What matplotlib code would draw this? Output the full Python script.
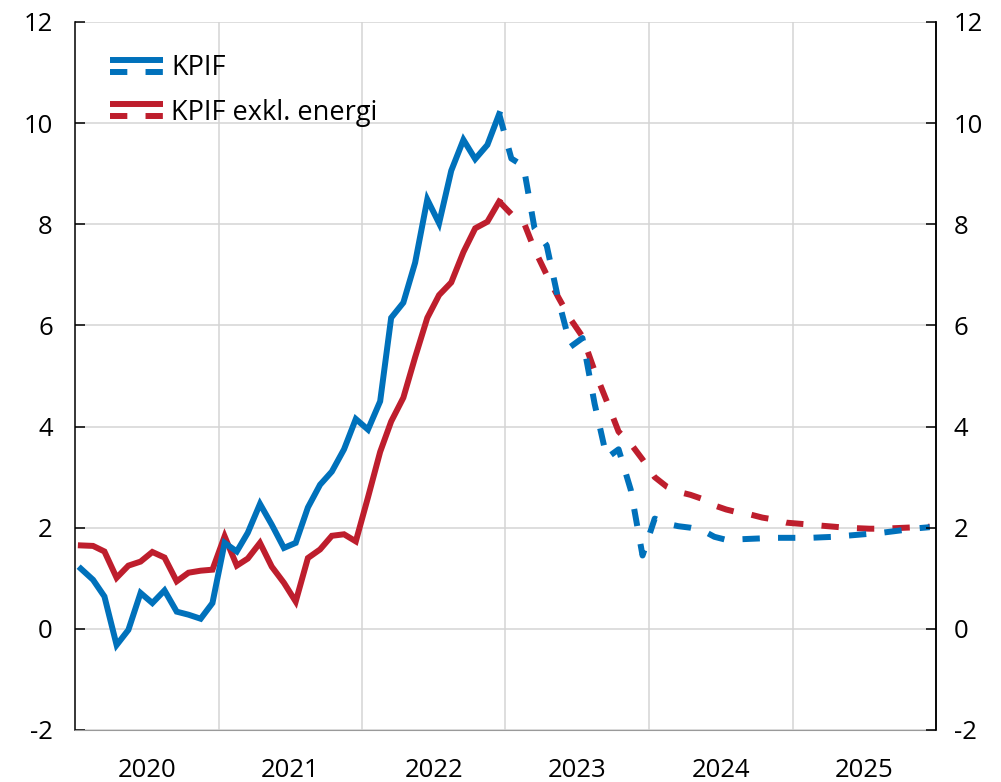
import numpy as np
import pandas as pd
import matplotlib
matplotlib.use("Agg")
import matplotlib.pyplot as plt
from matplotlib.lines import Line2D
from matplotlib.legend_handler import HandlerBase

plt.rcParams['font.family'] = ['Open Sans', 'DejaVu Sans']
plt.rcParams['axes.unicode_minus'] = False

# --- data -------------------------------------------------------------
# monthly history Jan 2020 - Dec 2022
kpif_hist = [1.19, 0.97, 0.64, -0.32, -0.02, 0.71, 0.51, 0.76, 0.34, 0.28, 0.20, 0.51,
             1.70, 1.53, 1.90, 2.47, 2.06, 1.60, 1.70, 2.40, 2.85, 3.11, 3.55, 4.15,
             3.94, 4.50, 6.15, 6.45, 7.24, 8.49, 8.02, 9.06, 9.67, 9.29, 9.57, 10.18]
exkl_hist = [1.65, 1.64, 1.53, 1.01, 1.25, 1.33, 1.52, 1.41, 0.94, 1.11, 1.15, 1.17,
             1.83, 1.25, 1.39, 1.70, 1.23, 0.91, 0.54, 1.40, 1.57, 1.84, 1.87, 1.73,
             2.60, 3.50, 4.10, 4.57, 5.37, 6.15, 6.60, 6.85, 7.45, 7.92, 8.05, 8.45]

# monthly projection Dec 2022 - Dec 2025
kpif_proj = [10.18,
             9.30, 9.15, 7.92, 7.58, 6.50, 5.58, 5.75, 4.45, 3.38, 3.55, 2.75, 1.45,
             2.18, 2.08, 2.03, 2.00, 1.95, 1.82, 1.76, 1.77, 1.78, 1.79, 1.80, 1.80,
             1.80, 1.80, 1.81, 1.82, 1.84, 1.86, 1.88, 1.90, 1.93, 1.96, 1.99, 2.01]
exkl_proj = [8.45,
             8.20, 8.05, 7.50, 7.00, 6.55, 6.12, 5.78, 5.10, 4.50, 3.90, 3.66, 3.35,
             3.00, 2.81, 2.71, 2.65, 2.57, 2.44, 2.36, 2.30, 2.26, 2.20, 2.16, 2.10,
             2.08, 2.06, 2.04, 2.02, 2.00, 1.99, 1.98, 1.98, 1.99, 2.00, 2.01, 2.02]

labels = ["KPIF", "KPIF exkl. energi"]
colors = ["#0071bb", "#be1e2d"]
years = [2020, 2021, 2022, 2023, 2024, 2025]

hist_dates = pd.date_range("2020-01-01", periods=len(kpif_hist), freq="MS") + pd.Timedelta(days=15)
proj_dates = pd.date_range("2022-12-01", periods=len(kpif_proj), freq="MS") + pd.Timedelta(days=15)

FS = 18.5
LEG_FS = 19.5


class StackedHandler(HandlerBase):
    # solid line above, dashed line below, like the original legend
    def create_artists(self, legend, orig_handle, xdescent, ydescent,
                       width, height, fontsize, trans):
        c = orig_handle.get_color()
        lw = orig_handle.get_linewidth()
        ymid = height / 2 - ydescent
        x0, x1 = -xdescent, width - xdescent
        top = Line2D([x0, x1], [ymid + 4.6, ymid + 4.6], color=c, lw=lw,
                     solid_capstyle="butt", transform=trans)
        bot = Line2D([x0, x1], [ymid - 4.0, ymid - 4.0], color=c, lw=lw,
                     linestyle=(0, (2.9, 3.05)), dash_capstyle="butt", transform=trans)
        return [top, bot]


fig = plt.figure(figsize=(10.01, 7.82), dpi=100)
ax = fig.add_axes([0.0749, 0.0665, 0.8601, 0.9054])

lw = 4.3
dash = (0, (2.9, 3.05))
h_red, = ax.plot(hist_dates, exkl_hist, color=colors[1], lw=lw, solid_joinstyle="miter", zorder=3)
ax.plot(proj_dates, exkl_proj, color=colors[1], lw=lw, linestyle=dash,
        dash_capstyle="butt", zorder=3)
h_blue, = ax.plot(hist_dates, kpif_hist, color=colors[0], lw=lw, solid_joinstyle="miter", zorder=4)
ax.plot(proj_dates, kpif_proj, color=colors[0], lw=lw, linestyle=dash,
        dash_capstyle="butt", zorder=4)

ax.set_xlim(pd.Timestamp("2020-01-01"), pd.Timestamp("2026-01-01"))
ax.set_ylim(-2, 12)

# year boundaries as grid, year labels centred in between
ax.set_xticks([pd.Timestamp(f"{y}-01-01") for y in years[1:]])
ax.set_xticks([pd.Timestamp(f"{y}-07-02") for y in years], minor=True)
ax.set_xticklabels([])
ax.set_xticklabels([str(y) for y in years], minor=True)
ax.tick_params(axis="x", which="both", length=0)
ax.tick_params(axis="x", which="minor", labelsize=FS, pad=20)

yt = np.arange(-2, 13, 2)
ax.set_yticks(yt)
ax.set_yticklabels([str(v) for v in yt])
ax.tick_params(axis="y", direction="in", length=7.5, width=1.1, labelsize=FS, pad=16)

ax.grid(True, which="major", color="#d4d4d4", lw=1.1)
ax.set_axisbelow(True)
ax.spines["top"].set_visible(False)
ax.spines["bottom"].set_color("#9a9a9a")
ax.spines["left"].set_linewidth(1.1)
ax.spines["right"].set_linewidth(1.1)

ax2 = ax.twinx()
ax2.set_ylim(-2, 12)
ax2.set_yticks(yt)
ax2.set_yticklabels([str(v) for v in yt])
ax2.tick_params(axis="y", direction="in", length=7.5, width=1.1, labelsize=FS, pad=13)
ax2.spines["top"].set_visible(False)
ax2.spines["bottom"].set_visible(False)
ax2.spines["left"].set_visible(False)
ax2.spines["right"].set_linewidth(1.1)

ax.legend([h_blue, h_red], labels, handler_map={Line2D: StackedHandler()},
          loc="upper left", bbox_to_anchor=(0.0407, 0.955), frameon=False,
          fontsize=LEG_FS, handlelength=1.95, handleheight=1.0, handletextpad=0.3,
          labelspacing=0.6, borderpad=0, borderaxespad=0)

fig.savefig("out.png", dpi=100)
